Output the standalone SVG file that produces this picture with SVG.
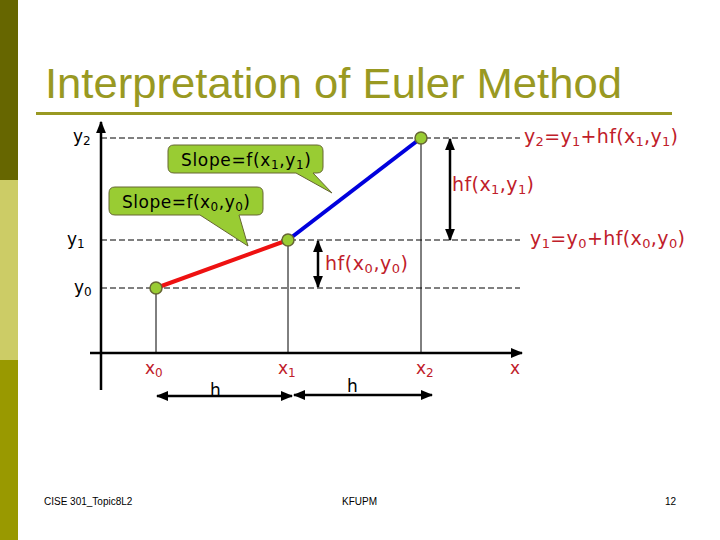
<svg xmlns="http://www.w3.org/2000/svg" width="720" height="540" viewBox="0 0 720 540">
<defs>
<marker id="ah" viewBox="0 0 10 10" refX="9" refY="5" markerWidth="5" markerHeight="5" orient="auto-start-reverse"><path d="M0,1 L10,5 L0,9 Z" fill="#000"/></marker>
<style>
.t{font-family:"DejaVu Sans",Verdana,sans-serif;font-size:17px;}
.rt{font-family:"DejaVu Sans",Verdana,sans-serif;font-size:19px;fill:#c0202a;}
.r{fill:#c0202a;}
.k{fill:#000;}
.s{font-size:12px;}
.rs{font-size:13px;}
.dash{stroke:#000;stroke-width:1;stroke-dasharray:6,3;fill:none;}
.thin{stroke:#000;stroke-width:1;fill:none;}
.dim{stroke:#000;stroke-width:2.5;fill:none;marker-start:url(#ah);marker-end:url(#ah);}
.pt{fill:#99cc33;stroke:#666633;stroke-width:1.5;}
.call{fill:#99cc33;stroke:#666633;stroke-width:1;}
.foot{font-family:"Liberation Sans",Arial,sans-serif;font-size:10px;fill:#000;}
</style>
</defs>
<rect width="720" height="540" fill="#fff"/>
<rect x="0" y="0" width="18" height="180" fill="#666600"/>
<rect x="0" y="180" width="18" height="180" fill="#cccc66"/>
<rect x="0" y="360" width="18" height="180" fill="#999900"/>
<text x="45" y="98" font-family="Liberation Sans,Arial,sans-serif" font-size="42" fill="#999922" textLength="577" lengthAdjust="spacingAndGlyphs">Interpretation of Euler Method</text>
<rect x="36" y="112" width="636" height="3" fill="#999922"/>

<g id="connectors">
<line x1="101" y1="390" x2="101" y2="122" stroke="#000" stroke-width="2.5" marker-end="url(#ah)"/>
<line x1="90" y1="353" x2="522" y2="353" stroke="#000" stroke-width="2.5" marker-end="url(#ah)"/>
<line class="dash" x1="101" y1="138" x2="520" y2="138"/>
<line class="dash" x1="101" y1="240" x2="520" y2="240"/>
<line class="dash" x1="101" y1="288" x2="520" y2="288"/>
<line class="thin" x1="156" y1="288" x2="156" y2="353"/>
<line class="thin" x1="288" y1="240" x2="288" y2="353"/>
<line class="thin" x1="421" y1="138" x2="421" y2="353"/>
<line x1="156" y1="288" x2="288" y2="240" stroke="#ee1111" stroke-width="4"/>
<line x1="288" y1="240" x2="421" y2="138" stroke="#0000dd" stroke-width="4"/>
<line class="dim" x1="450" y1="139" x2="450" y2="240"/>
<line class="dim" x1="318" y1="241" x2="318" y2="287"/>
<line class="dim" x1="157" y1="396" x2="292" y2="396"/>
<line class="dim" x1="294" y1="395" x2="432" y2="395"/>
</g>

<g id="p0"><circle class="pt" cx="156" cy="288" r="6"/></g>
<g id="p1"><circle class="pt" cx="288" cy="240" r="6"/></g>
<g id="p2"><circle class="pt" cx="421" cy="138" r="6"/></g>

<g id="callout1">
<path class="call" d="M174,145 H317 Q323,145 323,151 V167 Q323,173 317,173 H313 L332,193 L296,173 H174 Q168,173 168,167 V151 Q168,145 174,145 Z"/>
<text class="t k" x="181" y="166" textLength="130" lengthAdjust="spacing">Slope=f(x<tspan class="s" dy="3">1</tspan><tspan dy="-3">,y</tspan><tspan class="s" dy="3">1</tspan><tspan dy="-3">)</tspan></text>
</g>
<g id="callout0">
<path class="call" d="M115,187 H257 Q263,187 263,193 V209 Q263,215 257,215 H239 L248,246 L200,215 H115 Q109,215 109,209 V193 Q109,187 115,187 Z"/>
<text class="t k" x="122" y="208" textLength="128" lengthAdjust="spacing">Slope=f(x<tspan class="s" dy="3">0</tspan><tspan dy="-3">,y</tspan><tspan class="s" dy="3">0</tspan><tspan dy="-3">)</tspan></text>
</g>

<g id="labels">
<text class="t k" x="73" y="142">y<tspan class="s" dy="3">2</tspan></text>
<text class="t k" x="67" y="245">y<tspan class="s" dy="3">1</tspan></text>
<text class="t k" x="74" y="293">y<tspan class="s" dy="3">0</tspan></text>
<text class="t r" x="145" y="374">x<tspan class="s" dy="3">0</tspan></text>
<text class="t r" x="278" y="374">x<tspan class="s" dy="3">1</tspan></text>
<text class="t r" x="416" y="374">x<tspan class="s" dy="3">2</tspan></text>
<text class="t r" x="510" y="374">x</text>
<text class="t k" x="210" y="396">h</text>
<text class="t k" x="347" y="392">h</text>
<text class="rt" x="524" y="143" textLength="154" lengthAdjust="spacing">y<tspan class="rs" dy="3">2</tspan><tspan dy="-3">=y</tspan><tspan class="rs" dy="3">1</tspan><tspan dy="-3">+hf(x</tspan><tspan class="rs" dy="3">1</tspan><tspan dy="-3">,y</tspan><tspan class="rs" dy="3">1</tspan><tspan dy="-3">)</tspan></text>
<text class="rt" x="452" y="191" textLength="82" lengthAdjust="spacing">hf(x<tspan class="rs" dy="3">1</tspan><tspan dy="-3">,y</tspan><tspan class="rs" dy="3">1</tspan><tspan dy="-3">)</tspan></text>
<text class="rt" x="530" y="245" textLength="155" lengthAdjust="spacing">y<tspan class="rs" dy="3">1</tspan><tspan dy="-3">=y</tspan><tspan class="rs" dy="3">0</tspan><tspan dy="-3">+hf(x</tspan><tspan class="rs" dy="3">0</tspan><tspan dy="-3">,y</tspan><tspan class="rs" dy="3">0</tspan><tspan dy="-3">)</tspan></text>
<text class="rt" x="325" y="270" textLength="83" lengthAdjust="spacing">hf(x<tspan class="rs" dy="3">0</tspan><tspan dy="-3">,y</tspan><tspan class="rs" dy="3">0</tspan><tspan dy="-3">)</tspan></text>
</g>

<text class="foot" x="44" y="505">CISE 301_Topic8L2</text>
<text class="foot" x="342" y="505">KFUPM</text>
<text class="foot" x="665" y="505">12</text>
</svg>
